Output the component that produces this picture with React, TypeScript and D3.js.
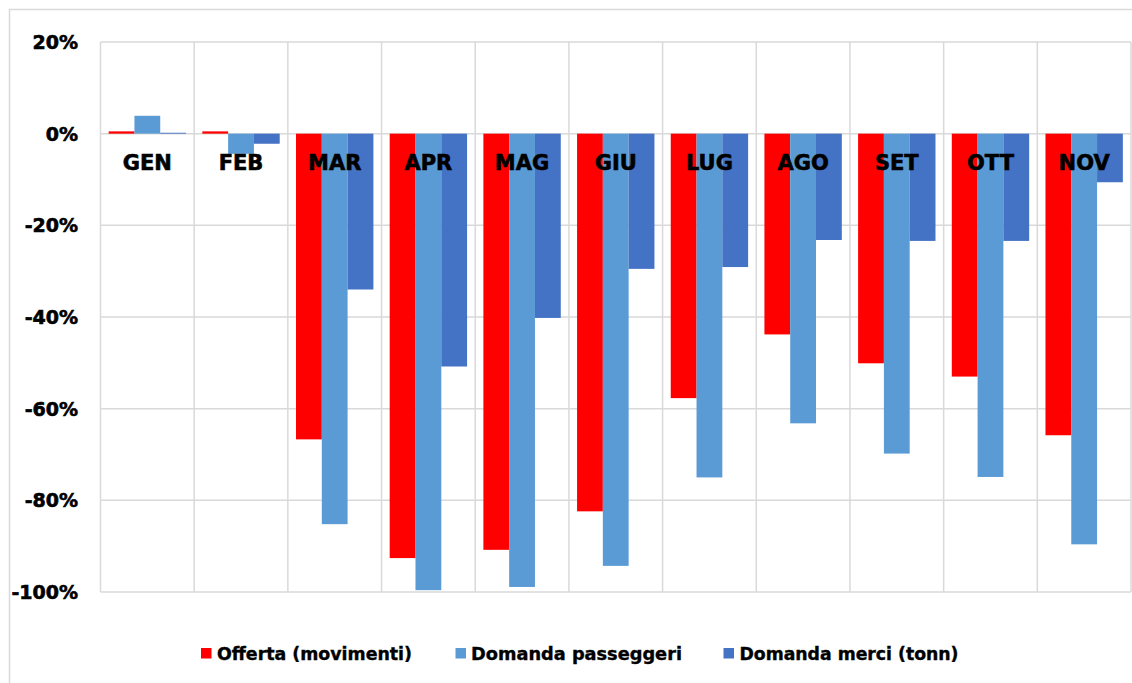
import React from "react";
import * as d3 from "d3";

const categories = ["GEN", "FEB", "MAR", "APR", "MAG", "GIU", "LUG", "AGO", "SET", "OTT", "NOV"];
const seriesNames = ["Offerta (movimenti)", "Domanda passeggeri", "Domanda merci (tonn)"];
const seriesColors = ["#FF0000", "#5B9BD5", "#4472C4"];
const offerta = [0.5, 0.5, -66.7, -92.6, -90.8, -82.4, -57.7, -43.8, -50.1, -53.0, -65.8];
const passeggeri = [3.9, -4.4, -85.2, -99.6, -98.9, -94.3, -75.0, -63.2, -69.8, -74.9, -89.6];
const merci = [0.2, -2.2, -34.0, -50.8, -40.2, -29.5, -29.1, -23.2, -23.4, -23.4, -10.6];
const seriesValues = [offerta, passeggeri, merci];
const yTicks = [20, 0, -20, -40, -60, -80, -100];

const W = 1132;
const H = 683;
const plot = { left: 100.5, right: 1131, top: 42, bottom: 592 };

export default function App() {
  const x = d3.scaleBand<string>().domain(categories).range([plot.left, plot.right]).padding(0);
  const xs = d3
    .scaleBand<number>()
    .domain([0, 1, 2])
    .range([0, x.bandwidth()])
    .paddingInner(0)
    .paddingOuter(0.316);
  const y = d3.scaleLinear().domain([-100, 20]).range([plot.bottom, plot.top]);

  const gridColor = "#d9d9d9";
  const legendItems = [
    { sq: 201, tx: 217, len: 195 },
    { sq: 455.5, tx: 471, len: 211 },
    { sq: 723.5, tx: 739.5, len: 219 },
  ];
  const heavy = { stroke: "#000", strokeWidth: 0.6 };

  return (
    <div style={{ position: "absolute", left: 0, top: 0 }}>
      <svg width={W} height={H} style={{ display: "block", background: "#fff" }}>
        <rect x={9.5} y={9.5} width={1140} height={700} fill="#fff" stroke={gridColor} strokeWidth={1.5} />
        {yTicks.map((t) => (
          <line key={"h" + t} x1={plot.left} x2={plot.right} y1={y(t)} y2={y(t)} stroke={gridColor} strokeWidth={1.5} />
        ))}
        {categories.map((c) => (
          <line key={"v" + c} x1={x(c)!} x2={x(c)!} y1={plot.top} y2={plot.bottom} stroke={gridColor} strokeWidth={1.5} />
        ))}
        <line x1={plot.right} x2={plot.right} y1={plot.top} y2={plot.bottom} stroke={gridColor} strokeWidth={1.5} />
        {seriesValues.map((vals, si) =>
          vals.map((v, ci) => {
            const cx = x(categories[ci])! + xs(si)!;
            const y0 = y(0);
            const y1 = y(v);
            return (
              <rect
                key={si + "-" + ci}
                x={cx}
                y={Math.min(y0, y1)}
                width={xs.bandwidth()}
                height={Math.abs(y1 - y0)}
                fill={seriesColors[si]}
              />
            );
          })
        )}
        {yTicks.map((t) => (
          <text
            key={"t" + t}
            x={78}
            y={y(t)}
            dy="0.36em"
            textAnchor="end"
            fontFamily="DejaVu Sans"
            fontWeight="bold"
            fontSize={19}
            fill="#000"
            {...heavy}
          >
            {t + "%"}
          </text>
        ))}
        {categories.map((c) => (
          <text
            key={"c" + c}
            x={x(c)! + x.bandwidth() / 2}
            y={170}
            textAnchor="middle"
            fontFamily="DejaVu Sans"
            fontWeight="bold"
            fontSize={21}
            fill="#000"
            {...heavy}
          >
            {c}
          </text>
        ))}
        {seriesNames.map((n, i) => (
          <g key={"l" + i}>
            <rect x={legendItems[i].sq} y={648} width={10.5} height={10.5} fill={seriesColors[i]} />
            <text
              x={legendItems[i].tx}
              y={660}
              fontFamily="DejaVu Sans"
              fontWeight="bold"
              fontSize={18.5}
              textLength={legendItems[i].len}
              lengthAdjust="spacingAndGlyphs"
              fill="#000"
              stroke="#000"
              strokeWidth={0.4}
            >
              {n}
            </text>
          </g>
        ))}
      </svg>
    </div>
  );
}
